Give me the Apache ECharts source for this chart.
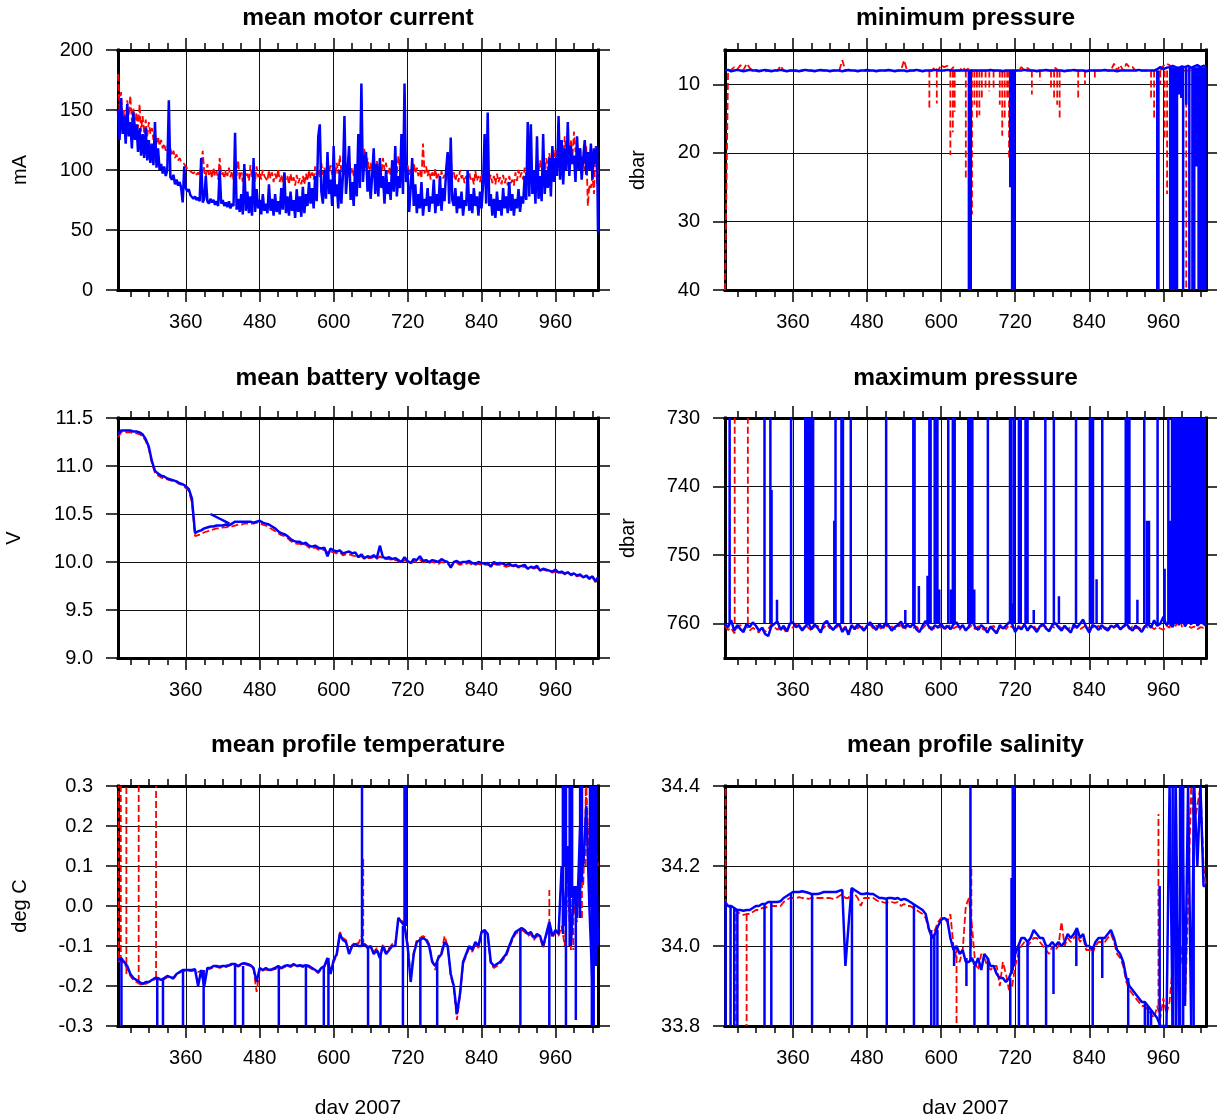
<!DOCTYPE html>
<html>
<head>
<meta charset="utf-8">
<title>float engineering and profile means, day 2007</title>
<script src="https://cdn.jsdelivr.net/npm/echarts@6.0.0/dist/echarts.min.js"></script>
<style>
  html, body { margin: 0; padding: 0; background: #fff; }
  #chart { width: 1217px; height: 1114px; }
</style>
</head>
<body>
<div id="chart"></div>
<script>
// day of 2007, one sample every 5 days
const days = [
  250, 255, 260, 265, 270, 275, 280, 285, 290, 295, 300, 305,
  310, 315, 320, 325, 330, 335, 340, 345, 350, 355, 360, 365,
  370, 375, 380, 385, 390, 395, 400, 405, 410, 415, 420, 425,
  430, 435, 440, 445, 450, 455, 460, 465, 470, 475, 480, 485,
  490, 495, 500, 505, 510, 515, 520, 525, 530, 535, 540, 545,
  550, 555, 560, 565, 570, 575, 580, 585, 590, 595, 600, 605,
  610, 615, 620, 625, 630, 635, 640, 645, 650, 655, 660, 665,
  670, 675, 680, 685, 690, 695, 700, 705, 710, 715, 720, 725,
  730, 735, 740, 745, 750, 755, 760, 765, 770, 775, 780, 785,
  790, 795, 800, 805, 810, 815, 820, 825, 830, 835, 840, 845,
  850, 855, 860, 865, 870, 875, 880, 885, 890, 895, 900, 905,
  910, 915, 920, 925, 930, 935, 940, 945, 950, 955, 960, 965,
  970, 975, 980, 985, 990, 995, 1000, 1005, 1010, 1015, 1020, 1025,
  1029
];

// motor current is noisier, sampled every 2.5 days
const motorDays = [
  250, 252.5, 255, 257.5, 260, 262.5, 265, 267.5, 270, 272.5, 275, 277.5, 280, 282.5, 285, 287.5, 290, 292.5, 295, 297.5, 300, 302.5, 305, 307.5,
  310, 312.5, 315, 317.5, 320, 322.5, 325, 327.5, 330, 332.5, 335, 337.5, 340, 342.5, 345, 347.5, 350, 352.5, 355, 357.5, 360, 362.5, 365, 367.5,
  370, 372.5, 375, 377.5, 380, 382.5, 385, 387.5, 390, 392.5, 395, 397.5, 400, 402.5, 405, 407.5, 410, 412.5, 415, 417.5, 420, 422.5, 425, 427.5,
  430, 432.5, 435, 437.5, 440, 442.5, 445, 447.5, 450, 452.5, 455, 457.5, 460, 462.5, 465, 467.5, 470, 472.5, 475, 477.5, 480, 482.5, 485, 487.5,
  490, 492.5, 495, 497.5, 500, 502.5, 505, 507.5, 510, 512.5, 515, 517.5, 520, 522.5, 525, 527.5, 530, 532.5, 535, 537.5, 540, 542.5, 545, 547.5,
  550, 552.5, 555, 557.5, 560, 562.5, 565, 567.5, 570, 572.5, 575, 577.5, 580, 582.5, 585, 587.5, 590, 592.5, 595, 597.5, 600, 602.5, 605, 607.5,
  610, 612.5, 615, 617.5, 620, 622.5, 625, 627.5, 630, 632.5, 635, 637.5, 640, 642.5, 645, 647.5, 650, 652.5, 655, 657.5, 660, 662.5, 665, 667.5,
  670, 672.5, 675, 677.5, 680, 682.5, 685, 687.5, 690, 692.5, 695, 697.5, 700, 702.5, 705, 707.5, 710, 712.5, 715, 717.5, 720, 722.5, 725, 727.5,
  730, 732.5, 735, 737.5, 740, 742.5, 745, 747.5, 750, 752.5, 755, 757.5, 760, 762.5, 765, 767.5, 770, 772.5, 775, 777.5, 780, 782.5, 785, 787.5,
  790, 792.5, 795, 797.5, 800, 802.5, 805, 807.5, 810, 812.5, 815, 817.5, 820, 822.5, 825, 827.5, 830, 832.5, 835, 837.5, 840, 842.5, 845, 847.5,
  850, 852.5, 855, 857.5, 860, 862.5, 865, 867.5, 870, 872.5, 875, 877.5, 880, 882.5, 885, 887.5, 890, 892.5, 895, 897.5, 900, 902.5, 905, 907.5,
  910, 912.5, 915, 917.5, 920, 922.5, 925, 927.5, 930, 932.5, 935, 937.5, 940, 942.5, 945, 947.5, 950, 952.5, 955, 957.5, 960, 962.5, 965, 967.5,
  970, 972.5, 975, 977.5, 980, 982.5, 985, 987.5, 990, 992.5, 995, 997.5, 1000, 1002.5, 1005, 1007.5, 1010, 1012.5, 1015, 1017.5, 1020, 1022.5, 1025, 1027.5,
  1029
];

const dayTicks = [360, 480, 600, 720, 840, 960];
const dayMinorTicks = [270, 300, 330, 360, 390, 420, 450, 480, 510, 540, 570, 600, 630, 660,
  690, 720, 750, 780, 810, 840, 870, 900, 930, 960, 990, 1020];

// mean motor current (mA)
const motorRed = [
  180, 150, 165, 140, 150, 135, 158, 145, 162, 140, 152, 138, 148, 135, 155, 132, 145, 130, 142, 128, 140, 130, 135, 125,
  130, 122, 128, 120, 125, 118, 122, 116, 120, 115, 118, 112, 116, 110, 113, 108, 110, 107, 108, 105, 104, 101, 102, 99,
  100, 97, 99, 96, 98, 95, 104, 116, 98, 94, 105, 96, 100, 93, 102, 95, 99, 92, 110, 96, 98, 93, 100, 95,
  102, 94, 99, 92, 100, 95, 108, 92, 98, 90, 102, 94, 97, 91, 104, 93, 99, 90, 103, 94, 98, 92, 100, 95,
  96, 91, 100, 93, 98, 90, 97, 92, 101, 90, 96, 89, 98, 92, 95, 88, 97, 90, 94, 87, 96, 89, 93, 88,
  95, 88, 97, 91, 100, 93, 98, 92, 103, 95, 100, 94, 106, 96, 102, 95, 108, 98, 104, 96, 100, 94, 106, 97,
  112, 98, 104, 96, 100, 94, 114, 97, 102, 95, 105, 98, 108, 100, 104, 97, 118, 102, 110, 98, 106, 96, 103, 98,
  108, 99, 104, 96, 110, 100, 106, 97, 102, 95, 108, 99, 104, 97, 112, 100, 115, 102, 122, 100, 104, 96, 101, 95,
  106, 97, 102, 95, 100, 93, 122, 97, 103, 95, 100, 92, 98, 94, 101, 92, 97, 90, 99, 93, 96, 91, 102, 95,
  108, 94, 98, 91, 96, 90, 100, 93, 96, 89, 95, 90, 98, 92, 94, 88, 99, 91, 95, 90, 97, 89, 94, 88,
  106, 92, 96, 89, 95, 88, 97, 90, 94, 88, 96, 89, 93, 87, 95, 89, 92, 87, 98, 91, 100, 94, 98, 92,
  102, 95, 106, 97, 103, 96, 100, 94, 105, 98, 108, 99, 104, 97, 110, 100, 114, 103, 112, 105, 118, 108, 115, 106,
  122, 110, 128, 112, 118, 106, 125, 110, 132, 115, 122, 108, 118, 104, 112, 100, 120, 70, 88, 85, 95, 80, 120, 88,
  100
];
const motorBlue = [
  150, 125, 160, 130, 145, 122, 155, 128, 140, 118, 148, 125, 138, 115, 135, 112, 130, 110, 135, 108, 125, 106, 122, 104,
  140, 102, 118, 100, 105, 97, 103, 95, 100, 158, 94, 92, 96, 88, 92, 87, 90, 85, 73, 103, 85, 82, 84, 79,
  80, 76, 78, 75, 77, 74, 110, 73, 76, 95, 74, 72, 76, 73, 75, 71, 74, 70, 100, 72, 75, 70, 73, 69,
  74, 68, 72, 70, 131, 67, 76, 65, 80, 63, 105, 66, 82, 64, 78, 62, 110, 65, 84, 68, 75, 63, 80, 66,
  72, 64, 88, 66, 76, 62, 80, 65, 74, 63, 85, 67, 98, 64, 78, 62, 82, 66, 75, 60, 84, 65, 78, 61,
  86, 64, 80, 70, 90, 72, 85, 68, 95, 74, 128, 138, 82, 72, 100, 76, 115, 80, 92, 70, 120, 78, 88, 68,
  100, 72, 95, 145, 80, 98, 120, 75, 90, 70, 105, 78, 130, 85, 172, 90, 110, 115, 82, 100, 76, 95, 118, 80,
  105, 78, 110, 85, 95, 72, 100, 80, 90, 75, 108, 82, 120, 78, 95, 85, 130, 80, 172, 90, 100, 65, 85, 110,
  70, 88, 64, 80, 68, 90, 62, 76, 70, 85, 65, 78, 72, 92, 64, 80, 70, 95, 66, 85, 74, 100, 115, 72,
  127, 75, 70, 85, 64, 78, 68, 82, 62, 75, 70, 100, 66, 80, 64, 85, 70, 78, 62, 82, 68, 88, 130, 72,
  148, 70, 80, 62, 76, 60, 82, 66, 75, 62, 85, 68, 78, 64, 90, 66, 80, 62, 76, 68, 84, 65, 78, 72,
  95, 75, 140, 78, 138, 80, 100, 72, 128, 76, 95, 74, 130, 80, 100, 85, 110, 78, 120, 90, 110, 95, 145, 92,
  125, 88, 118, 100, 140, 95, 120, 105, 112, 90, 128, 100, 118, 92, 110, 125, 96, 115, 100, 122, 92, 118, 105, 120,
  48
];
const motorTicks = [0, 50, 100, 150, 200];

// minimum pressure (dbar)
const minPresRed = [
  40, 8.0, 7.9, 7.5, 7.8, 7.2, 7.9, 7.0, 7.6, 8.0, 7.9, 8.0,
  8.0, 8.1, 8.0, 8.0, 7.9, 8.0, 7.3, 8.0, 8.0, 8.0, 8.0, 8.1,
  8.0, 8.0, 7.9, 8.0, 8.0, 8.0, 8.0, 8.0, 8.0, 7.9, 8.0, 8.0,
  8.0, 8.0, 6.5, 8.0, 8.0, 8.0, 8.0, 8.0, 8.0, 8.0, 8.1, 8.0,
  8.0, 8.0, 8.0, 8.0, 8.0, 8.0, 8.0, 8.0, 8.0, 8.0, 6.5, 8.0,
  8.0, 8.0, 8.0, 8.0, 8.0, 8.0, 8.0, 8.0, 7.5, 8.0, 7.2, 7.5,
  7.3, 8.0, 7.5, 8.0, 8.0, 7.5, 8.0, 7.6, 8.0, 8.0, 8.0, 8.0,
  8.0, 8.0, 8.0, 8.0, 8.0, 8.0, 8.0, 8.0, 8.0, 8.0, 8.0, 8.0,
  7.5, 8.0, 7.6, 8.0, 8.0, 8.0, 8.0, 8.0, 8.0, 8.0, 8.0, 7.6,
  8.0, 8.0, 8.0, 8.0, 8.0, 8.0, 8.0, 8.0, 8.0, 8.0, 8.0, 8.0,
  8.0, 8.0, 8.0, 8.0, 8.0, 8.0, 7.0, 8.0, 7.2, 8.0, 7.0, 7.5,
  7.5, 8.0, 8.0, 8.0, 8.0, 8.0, 8.0, 8.0, 8.0, 8.0, 7.3, 7.0,
  7.2, 8.0, 8.0, 8.0, 8.0, 8.0, 8.0, 8.0, 8.0, 8.0, 8.0, 8.0,
  8.0
];
const minPresBlue = [
  8.0, 7.9, 8.1, 8.0, 7.9, 8.0, 8.1, 8.0, 7.9, 8.0, 8.0, 8.1,
  8.0, 7.9, 8.0, 8.1, 8.0, 8.0, 7.9, 8.0, 8.1, 8.0, 8.0, 8.0,
  8.1, 8.0, 7.9, 8.0, 8.0, 8.1, 8.0, 7.9, 8.0, 8.0, 8.1, 8.0,
  8.0, 8.0, 8.1, 8.0, 7.9, 8.0, 8.0, 8.1, 8.0, 8.0, 7.9, 8.0,
  8.0, 8.1, 8.0, 8.0, 8.0, 7.9, 8.0, 8.1, 8.0, 8.0, 8.0, 8.1,
  8.0, 8.0, 7.9, 8.0, 8.1, 8.0, 8.0, 8.0, 7.9, 8.0, 8.0, 8.0,
  7.9, 8.0, 8.0, 8.0, 8.0, 8.0, 8.0, 8.0, 8.0, 8.0, 8.0, 8.0,
  8.0, 8.0, 7.9, 8.0, 8.0, 8.0, 8.1, 8.0, 8.0, 8.0, 8.0, 8.0,
  8.0, 7.9, 8.0, 8.0, 8.0, 8.1, 8.0, 8.0, 7.9, 8.0, 8.0, 8.0,
  8.0, 8.0, 8.1, 8.0, 8.0, 7.9, 8.0, 8.0, 8.0, 8.1, 8.0, 8.0,
  8.0, 8.0, 8.0, 7.9, 8.0, 8.0, 8.0, 8.1, 8.0, 8.0, 8.0, 8.0,
  8.0, 8.0, 7.9, 8.0, 8.0, 8.0, 8.0, 8.0, 7.8, 7.5, 7.8, 7.6,
  7.5, 7.3, 7.5, 7.6, 7.4, 7.5, 7.3, 7.6, 7.4, 7.2, 7.5, 7.3,
  7.4
];
// [day, from, to]
const minPresRedSpikes = [
  [581, 8, 13.5], [593, 8, 12.8], [615, 8, 20.3], [619, 8, 17], [622, 8, 14], [640, 8, 24],
  [650, 8, 29], [654, 8, 13], [658, 8, 15], [662, 8, 14.5], [666, 8, 12], [672, 8, 10.5],
  [678, 8, 11], [685, 8, 10.5], [695, 8, 13], [699, 8, 17.5], [703, 8, 15], [707, 8, 12],
  [710, 8, 21], [747, 8, 11.5], [760, 8, 9.5], [778, 8, 10.5], [783, 8, 12], [788, 8, 13],
  [792, 8, 15.2], [822, 8, 12], [833, 8, 10], [849, 8, 9.2], [940, 8, 12], [945, 8, 15],
  [950, 8, 13], [955, 8, 10], [962, 8, 18], [966, 8, 26], [971, 8, 14], [997, 8, 40]
];
const minPresBlueSpikes = [
  [645, 8, 40], [648, 8, 40], [712, 8, 25], [715, 8, 40], [718, 8, 40], [950, 8, 40],
  [952, 8, 40], [971, 7.5, 40], [974, 7.5, 40], [978, 7.5, 40], [982, 7.5, 40], [986, 7.5, 11.5],
  [989, 7.5, 12], [992, 7.5, 40], [997, 7.5, 13], [1002, 7.5, 40], [1007, 7.5, 40], [1010, 7.5, 40],
  [1014, 7.5, 22], [1017, 7.5, 40], [1021, 7.5, 40], [1025, 7.5, 40], [1028, 7.5, 40]
];
const minPresTicks = [10, 20, 30, 40];

// mean battery voltage (V)
const battRed = [
  11.30, 11.35, 11.35, 11.35, 11.35, 11.34, 11.34, 11.33, 11.31, 11.26, 11.18, 11.03,
  10.93, 10.90, 10.88, 10.87, 10.86, 10.85, 10.84, 10.83, 10.81, 10.80, 10.77, 10.74,
  10.62, 10.27, 10.28, 10.29, 10.31, 10.32, 10.33, 10.34, 10.35, 10.35, 10.36, 10.36,
  10.37, 10.37, 10.38, 10.39, 10.39, 10.40, 10.40, 10.40, 10.40, 10.41, 10.40, 10.39,
  10.38, 10.36, 10.34, 10.32, 10.30, 10.28, 10.27, 10.25, 10.22, 10.20, 10.19, 10.19,
  10.17, 10.18, 10.15, 10.14, 10.15, 10.13, 10.12, 10.13, 10.10, 10.11, 10.10, 10.09,
  10.10, 10.07, 10.08, 10.08, 10.07, 10.06, 10.05, 10.06, 10.03, 10.04, 10.04, 10.05,
  10.03, 10.06, 10.03, 10.03, 10.03, 10.02, 10.02, 10.01, 9.99, 10.02, 10.00, 9.98,
  10.01, 10.00, 10.02, 10.00, 10.00, 9.99, 10.00, 9.99, 9.98, 10.00, 9.99, 9.98,
  9.96, 9.98, 9.99, 9.97, 9.98, 9.98, 9.99, 9.97, 9.97, 9.98, 9.97, 9.97,
  9.97, 9.96, 9.98, 9.97, 9.97, 9.96, 9.95, 9.96, 9.95, 9.96, 9.94, 9.95,
  9.95, 9.93, 9.94, 9.93, 9.94, 9.92, 9.92, 9.91, 9.90, 9.89, 9.90, 9.88,
  9.89, 9.87, 9.90, 9.86, 9.87, 9.85, 9.86, 9.84, 9.85, 9.82, 9.84, 9.79,
  9.82
];
const battBlue = [
  11.33, 11.37, 11.37, 11.37, 11.37, 11.36, 11.36, 11.35, 11.33, 11.28, 11.20, 11.05,
  10.95, 10.92, 10.90, 10.89, 10.87, 10.86, 10.85, 10.84, 10.82, 10.81, 10.79, 10.76,
  10.66, 10.30, 10.32, 10.33, 10.35, 10.36, 10.37, 10.37, 10.38, 10.38, 10.38, 10.39,
  10.38, 10.40, 10.42, 10.42, 10.42, 10.42, 10.42, 10.42, 10.41, 10.42, 10.43, 10.41,
  10.40, 10.39, 10.37, 10.35, 10.32, 10.30, 10.29, 10.27, 10.24, 10.22, 10.21, 10.21,
  10.19, 10.20, 10.17, 10.16, 10.17, 10.15, 10.14, 10.15, 10.06, 10.14, 10.12, 10.11,
  10.12, 10.09, 10.10, 10.11, 10.09, 10.10, 10.05, 10.08, 10.04, 10.06, 10.05, 10.07,
  10.04, 10.17, 10.05, 10.04, 10.05, 10.03, 10.04, 10.02, 10.00, 10.05, 10.01, 9.99,
  10.03, 10.02, 10.06, 10.01, 10.02, 10.00, 10.02, 10.01, 10.00, 10.03, 10.01, 10.00,
  9.94, 10.00, 10.01, 9.99, 10.00, 10.00, 10.01, 9.99, 9.98, 10.00, 9.99, 9.98,
  9.99, 9.95, 10.00, 9.98, 9.99, 9.98, 9.97, 9.98, 9.96, 9.97, 9.95, 9.96,
  9.97, 9.93, 9.95, 9.94, 9.96, 9.91, 9.93, 9.92, 9.91, 9.90, 9.92, 9.89,
  9.90, 9.88, 9.89, 9.87, 9.88, 9.86, 9.87, 9.84, 9.86, 9.83, 9.85, 9.80,
  9.84
];
const battBlueStray = [[400, 10.50], [431, 10.40]];
const battTicks = [9.0, 9.5, 10.0, 10.5, 11.0, 11.5];

// maximum pressure (dbar)
const maxPresRed = [
  760.3, 760.9, 760.6, 761.4, 760.5, 760.2, 760.8, 760.4, 761.0, 760.6, 760.9, 761.3,
  760.4, 761.2, 760.8, 760.1, 760.5, 760.9, 760.3, 760.7, 761.4, 760.2, 760.6, 760.1,
  760.5, 760.8, 760.2, 760.6, 761.0, 760.4, 760.3, 760.9, 760.6, 760.1, 760.7, 760.4,
  760.6, 760.2, 760.9, 760.4, 761.1, 760.5, 760.3, 760.7, 760.2, 760.8, 760.5, 760.1,
  760.7, 760.3, 760.5, 760.9, 760.2, 760.6, 760.4, 760.8, 760.5, 760.2, 760.9, 760.4,
  760.3, 760.6, 760.4, 760.9, 760.7, 760.2, 760.6, 760.5, 760.8, 760.3, 760.6, 760.9,
  760.5, 760.2, 760.7, 760.4, 760.9, 760.3, 760.7, 760.6, 760.2, 760.8, 760.4, 760.6,
  760.9, 760.5, 760.7, 760.3, 761.1, 760.6, 760.4, 760.8, 760.2, 760.5, 760.9, 760.3,
  760.6, 760.4, 760.8, 760.5, 760.3, 760.9, 760.6, 760.2, 760.5, 760.8, 760.4, 760.7,
  760.3, 760.7, 760.5, 760.9, 760.4, 760.6, 760.3, 760.8, 760.5, 760.2, 760.7, 760.5,
  760.6, 760.3, 760.8, 760.5, 760.7, 760.4, 760.6, 760.3, 760.9, 760.5, 760.2, 760.8,
  760.4, 760.7, 760.5, 760.9, 760.3, 760.6, 760.4, 760.8, 760.5, 760.7, 760.9, 760.3,
  760.6, 758.5, 760.4, 758.0, 760.5, 758.8, 760.3, 760.6, 760.4, 760.8, 760.5, 760.6,
  760.5
];
const maxPresBlue = [
  760.0, 760.5, 759.5, 761.0, 760.2, 760.8, 761.2, 760.0, 760.5, 759.8, 760.3, 761.0,
  760.6, 761.5, 761.8, 760.4, 760.0, 759.7, 760.9, 760.3, 761.1, 760.0, 759.8, 760.5,
  760.2, 761.0, 760.4, 759.9, 760.8, 760.1, 760.6, 761.3, 760.0, 759.6, 760.4, 760.9,
  760.3, 760.0, 761.2, 760.5, 761.6, 760.2, 760.8, 760.1, 760.5, 761.0, 760.3, 759.8,
  760.4, 760.9, 760.1, 760.6, 759.9, 760.3, 761.0, 760.5, 760.2, 759.7, 760.6, 760.1,
  760.5, 760.0, 760.8, 761.2, 760.3, 759.6, 760.4, 760.9, 760.2, 760.6, 760.0, 760.7,
  760.3, 760.8, 760.1, 759.8, 760.6, 760.2, 761.0, 760.4, 759.3, 760.5, 760.9, 760.2,
  760.6, 761.3, 760.4, 760.9, 761.4, 760.2, 760.7, 760.3, 759.8, 760.0, 761.2, 760.5,
  760.8, 760.1, 761.0, 760.3, 760.6, 761.2, 760.4, 760.0, 760.7, 761.1, 760.2, 759.9,
  760.5, 761.0, 760.3, 760.8, 761.3, 760.1, 760.6, 760.0, 759.4, 760.5, 761.3, 760.2,
  760.4, 760.9, 760.2, 760.7, 761.0, 760.3, 760.5, 760.1, 760.8, 760.4, 760.0, 760.6,
  761.0, 760.3, 760.7, 761.2, 760.4, 760.0, 760.6, 759.5, 760.3, 760.0, 759.0, 760.2,
  759.8, 760.5, 759.0, 760.2, 758.8, 760.4, 759.6, 760.1, 758.5, 760.3, 759.8, 760.0,
  760.3
];
const maxPresRedSpikes = [
  [265.7, 760, 730], [287, 760, 730], [992, 760, 755], [1015, 760, 730], [1018.5, 760, 730],
  [1023.5, 760, 730], [1026.7, 760, 730]
];
const maxPresBlueSpikes = [
  [257.5, 760, 730], [314, 760, 730], [323.5, 760, 730], [325.4, 760, 740.5], [334.2, 760, 756.5],
  [357, 760, 730], [380, 760, 730], [383, 760, 730], [386, 760, 730], [389.6, 760, 730],
  [392.7, 760, 730], [427, 760, 745], [429, 760, 730], [438.6, 760, 730], [441, 760, 730],
  [453.7, 760, 730], [511, 760, 730], [542, 760, 758], [555, 760, 730], [557, 760, 730],
  [564, 760, 754.5], [578, 760, 753], [581, 760, 730], [583, 760, 730], [589.6, 760, 730],
  [592, 760, 730], [594, 760, 730], [597, 760, 755], [611.6, 760, 730], [616, 760, 755],
  [619, 760, 730], [622, 760, 730], [644, 760, 730], [646, 760, 730], [648.7, 760, 730],
  [650.6, 760, 730], [653.7, 760, 755], [675.7, 760, 730], [711.6, 760, 730], [713.5, 760, 730],
  [716.6, 760, 757], [718, 760, 730], [726, 760, 730], [729, 760, 730], [736.7, 760, 730],
  [740, 760, 730], [750, 760, 758], [768.8, 760, 730], [782.6, 760, 730], [790.8, 760, 756],
  [818.5, 760, 730], [841, 760, 730], [843.6, 760, 730], [846, 760, 730], [851.8, 760, 753.5],
  [861, 760, 730], [899, 760, 730], [902, 760, 730], [905, 760, 730], [917.9, 760, 756.5],
  [929, 760, 730], [933.6, 760, 745], [936.7, 760, 745], [950.6, 760, 730], [962, 760, 752],
  [968, 760, 730], [971, 760, 745], [974, 760, 730], [977, 760, 730], [980, 760, 730],
  [983, 760, 730], [986, 760, 730], [989, 760, 730], [993, 760, 730], [996, 760, 730],
  [999, 760, 730], [1002, 760, 730], [1006, 760, 730], [1009, 760, 730], [1013, 760, 730],
  [1016, 760, 730], [1020, 760, 730], [1024, 760, 730], [1027, 760, 730]
];
const maxPresTicks = [730, 740, 750, 760];

// mean profile temperature (deg C)
const tempRed = [
  -0.14, -0.135, -0.145, -0.155, -0.175, -0.185, -0.19, -0.195, -0.198, -0.195, -0.19, -0.188,
  -0.183, -0.182, -0.187, -0.183, -0.178, -0.18, -0.182, -0.172, -0.167, -0.163, -0.162, -0.162,
  -0.163, -0.16, -0.165, -0.162, -0.165, -0.158, -0.157, -0.153, -0.152, -0.155, -0.152, -0.153,
  -0.15, -0.147, -0.148, -0.152, -0.148, -0.145, -0.148, -0.15, -0.158, -0.215, -0.158, -0.162,
  -0.158, -0.163, -0.16, -0.158, -0.153, -0.157, -0.153, -0.15, -0.153, -0.148, -0.152, -0.15,
  -0.153, -0.15, -0.153, -0.158, -0.162, -0.168, -0.158, -0.153, -0.135, -0.165, -0.14, -0.125,
  -0.065, -0.08, -0.085, -0.115, -0.098, -0.09, -0.095, -0.075, -0.095, -0.1, -0.105, -0.115,
  -0.105, -0.125, -0.095, -0.115, -0.105, -0.095, -0.095, -0.03, -0.035, -0.045, -0.095, -0.18,
  -0.115, -0.085, -0.08, -0.075, -0.08, -0.095, -0.135, -0.16, -0.125, -0.115, -0.075, -0.1,
  -0.175, -0.205, -0.285, -0.225, -0.145, -0.125, -0.105, -0.115, -0.095, -0.105, -0.065, -0.065,
  -0.075, -0.145, -0.155, -0.15, -0.145, -0.135, -0.125, -0.105, -0.085, -0.07, -0.065, -0.06,
  -0.065, -0.075, -0.07, -0.085, -0.075, -0.08, -0.105, -0.075, -0.045, -0.08, -0.065, -0.075,
  -0.05, -0.1, 0.05, -0.11, 0.0, -0.04, 0.12, 0.05, 0.3, 0.1, 0.22, 0.15,
  0.1
];
const tempBlue = [
  -0.135, -0.13, -0.14, -0.15, -0.17, -0.18, -0.185, -0.19, -0.195, -0.19, -0.19, -0.185,
  -0.18, -0.18, -0.185, -0.18, -0.175, -0.178, -0.18, -0.17, -0.165, -0.16, -0.16, -0.16,
  -0.16, -0.158, -0.2, -0.16, -0.2, -0.155, -0.155, -0.15, -0.15, -0.152, -0.15, -0.15,
  -0.148, -0.145, -0.145, -0.15, -0.145, -0.143, -0.145, -0.148, -0.155, -0.19, -0.155, -0.16,
  -0.155, -0.16, -0.158, -0.155, -0.15, -0.155, -0.15, -0.148, -0.15, -0.145, -0.15, -0.148,
  -0.15, -0.148, -0.15, -0.155, -0.16, -0.165, -0.155, -0.15, -0.13, -0.17, -0.135, -0.12,
  -0.07, -0.085, -0.09, -0.12, -0.1, -0.095, -0.1, -0.1, -0.095, -0.105, -0.1, -0.12,
  -0.11, -0.13, -0.1, -0.12, -0.11, -0.1, -0.1, -0.03, -0.04, -0.05, -0.1, -0.19,
  -0.12, -0.09, -0.085, -0.08, -0.085, -0.1, -0.14, -0.15, -0.13, -0.12, -0.09, -0.1,
  -0.17, -0.2, -0.27, -0.22, -0.14, -0.12, -0.1, -0.11, -0.09, -0.1, -0.065, -0.06,
  -0.07, -0.14, -0.15, -0.145, -0.14, -0.13, -0.12, -0.1, -0.08, -0.065, -0.06, -0.055,
  -0.06, -0.07, -0.065, -0.08, -0.07, -0.075, -0.1, -0.07, -0.04, -0.075, -0.06, -0.07,
  0.1, -0.05, 0.15, -0.1, 0.05, -0.03, 0.2, 0.1, 0.25, 0.0, -0.2, 0.2,
  -0.1
];
const tempRedSpikes = [
  [251, -0.13, 0.3], [254.6, -0.14, 0.3], [263.6, -0.17, 0.3], [283.6, -0.19, 0.3], [311.8, -0.18, 0.3],
  [648, -0.1, 0.12], [950, -0.05, 0.04], [985, -0.1, 0.2], [989, -0.03, -0.11], [1003, -0.03, 0.12],
  [1009, 0.1, 0.3], [1016, 0.0, 0.3], [1020, -0.2, 0.22]
];
const tempBlueSpikes = [
  [255.6, -0.13, -0.3], [313.7, -0.18, -0.3], [323, -0.18, -0.3], [355.5, -0.16, -0.3], [389, -0.16, -0.3],
  [440, -0.145, -0.3], [453, -0.15, -0.3], [511, -0.15, -0.3], [555, -0.15, -0.3], [584, -0.15, -0.3],
  [591.5, -0.13, -0.3], [646, -0.1, 0.3], [655.8, -0.1, -0.3], [676, -0.12, -0.3], [712.4, -0.05, -0.3],
  [715, -0.05, 0.3], [717, -0.05, 0.3], [740.7, -0.085, -0.3], [768, -0.14, -0.3], [845.5, -0.06, -0.3],
  [903, -0.06, -0.3], [950, -0.05, -0.3], [972, -0.07, 0.3], [974, 0.1, 0.3], [977, -0.3, 0.3],
  [983, -0.1, 0.3], [987, 0.02, 0.3], [993, 0.05, -0.285], [1000, -0.03, 0.3], [1003, 0.06, 0.3],
  [1016, 0.0, 0.3], [1019, -0.3, 0.3], [1022, -0.3, 0.3], [1026, -0.15, 0.3]
];
const tempTicks = [-0.3, -0.2, -0.1, 0.0, 0.1, 0.2, 0.3];

// mean profile salinity
const salRed = [
  34.1, 34.1, 34.095, 34.09, 34.085, 34.08, 34.078, 34.08, 34.08, 34.085, 34.09, 34.09,
  34.095, 34.095, 34.1, 34.1, 34.1, 34.1, 34.1, 34.11, 34.115, 34.12, 34.12, 34.12,
  34.122, 34.12, 34.12, 34.118, 34.12, 34.12, 34.12, 34.12, 34.12, 34.12, 34.12, 34.118,
  34.12, 34.125, 34.13, 34.12, 34.12, 34.14, 34.13, 34.12, 34.1, 34.12, 34.12, 34.12,
  34.12, 34.115, 34.11, 34.11, 34.108, 34.11, 34.11, 34.108, 34.11, 34.1, 34.105, 34.1,
  34.1, 34.095, 34.09, 34.085, 34.08, 34.07, 34.04, 34.02, 34.04, 34.06, 34.07, 34.07,
  34.06, 34.08, 34.0, 33.97, 33.96, 33.99, 34.1, 34.12, 34.05, 33.96, 33.94, 33.98,
  33.97, 33.95, 33.94, 33.95, 33.95, 33.9, 33.96, 33.93, 33.89, 33.9, 33.95, 33.98,
  34.0, 34.01, 34.0, 34.01, 34.02, 34.02, 34.01, 34.0, 33.99, 33.98, 34.0, 33.99,
  34.0, 34.06, 34.0, 34.02, 34.01, 34.02, 34.03, 34.01, 34.02, 33.99, 33.99, 33.98,
  34.0, 34.01, 34.01, 34.01, 34.02, 34.03, 34.01, 33.98, 33.97, 33.95, 33.91, 33.89,
  33.88, 33.87, 33.86, 33.85, 33.85, 33.84, 33.83, 33.82, 33.85, 33.82, 33.87, 33.83,
  33.86, 33.95, 34.1, 33.9, 34.0, 33.85, 34.1, 34.4, 34.3, 34.35, 34.4, 34.2,
  34.15
];
const salBlue = [
  34.11, 34.10, 34.10, 34.095, 34.09, 34.09, 34.088, 34.09, 34.09, 34.095, 34.1, 34.1,
  34.105, 34.105, 34.11, 34.11, 34.11, 34.11, 34.112, 34.12, 34.125, 34.13, 34.135, 34.135,
  34.135, 34.137, 34.135, 34.133, 34.13, 34.13, 34.13, 34.132, 34.135, 34.135, 34.135, 34.135,
  34.135, 34.138, 34.14, 33.95, 34.05, 34.145, 34.14, 34.135, 34.13, 34.13, 34.132, 34.13,
  34.13, 34.125, 34.12, 34.12, 34.118, 34.12, 34.12, 34.118, 34.12, 34.115, 34.118, 34.115,
  34.11, 34.105, 34.1, 34.095, 34.09, 34.08, 34.045, 34.02, 34.03, 34.05, 34.065, 34.07,
  34.065, 34.02, 33.99, 34.0, 33.98, 33.99, 33.96, 33.96, 33.97, 33.95, 33.97, 33.94,
  33.98, 33.97, 33.95, 33.95, 33.93, 33.92, 33.92, 33.91, 33.92, 33.94, 33.98, 34.0,
  34.02, 34.02, 34.01, 34.02, 34.04, 34.03, 34.02, 34.02, 34.0, 34.0, 34.01, 34.0,
  34.01, 34.0, 34.01, 34.03, 34.02, 34.03, 34.045, 34.02, 34.03, 34.0, 34.0, 33.99,
  34.01, 34.02, 34.02, 34.02, 34.03, 34.04, 34.02, 33.99, 33.98, 33.96, 33.92, 33.9,
  33.89, 33.88, 33.87, 33.86, 33.86, 33.85, 33.84, 33.83, 33.82, 33.8, 33.8, 33.8,
  34.4, 33.8, 34.4, 33.8, 34.4, 33.85, 34.4, 33.8, 34.4, 34.2, 34.4, 34.15,
  34.15
];
const salRedSpikes = [
  [251, 34.1, 34.4], [266, 34.08, 33.8], [270, 34.08, 33.8], [285, 34.08, 33.8],
  [625, 34.0, 33.8], [649, 34.0, 34.2], [952, 33.85, 34.33]
];
const salBlueSpikes = [
  [251, 34.11, 33.8], [259, 34.1, 33.8], [265, 34.095, 33.8], [270, 34.09, 33.8], [314, 34.105, 33.8],
  [325, 34.11, 33.8], [357, 34.13, 33.8], [391, 34.13, 33.8], [455.6, 34.14, 33.8], [512, 34.12, 33.8],
  [556, 34.105, 33.8], [584, 34.04, 33.8], [589, 34.03, 33.8], [594, 34.04, 33.8], [621, 34.0, 33.95],
  [641, 33.97, 33.9], [647.5, 33.96, 34.4], [654, 33.95, 33.8], [676, 33.97, 33.8], [712, 33.92, 33.8],
  [714, 33.93, 34.17], [716, 33.94, 34.4], [718, 33.95, 34.4], [726, 34.0, 33.8], [740, 34.01, 33.8],
  [770, 34.0, 33.8], [782, 34.0, 33.88], [819, 34.04, 33.95], [845.5, 34.0, 33.8], [861, 34.02, 33.92],
  [903, 33.92, 33.8], [930, 33.86, 33.8], [935, 33.85, 33.8], [940, 33.84, 33.8], [954, 33.8, 34.15],
  [975, 33.8, 34.4], [980, 33.8, 34.4], [987, 33.8, 34.4], [992, 33.8, 34.4], [1009, 34.4, 33.8]
];
const salTicks = [33.8, 34.0, 34.2, 34.4];

const FONT = 'Liberation Sans, Arial, Helvetica, sans-serif';
const RED = '#ff0000';
const BLUE = '#0000ff';

const panels = [
  { title: 'mean motor current', yName: 'mA', nameGap: 88, min: 0, max: 200, ticks: motorTicks,
    fmt: v => String(v), x: motorDays, red: motorRed, blue: motorBlue, redSpikes: [], blueSpikes: [] },
  { title: 'minimum pressure', yName: 'dbar', nameGap: 77, min: 5, max: 40, inverse: true, ticks: minPresTicks,
    fmt: v => String(v), x: days, red: minPresRed, blue: minPresBlue, redSpikes: minPresRedSpikes, blueSpikes: minPresBlueSpikes },
  { title: 'mean battery voltage', yName: 'V', nameGap: 94, min: 9, max: 11.5, ticks: battTicks,
    fmt: v => v.toFixed(1), x: days, red: battRed, blue: battBlue, redSpikes: [], blueSpikes: [], stray: battBlueStray },
  { title: 'maximum pressure', yName: 'dbar', nameGap: 87, min: 730, max: 765, inverse: true, ticks: maxPresTicks,
    fmt: v => String(v), x: days, red: maxPresRed, blue: maxPresBlue, redSpikes: maxPresRedSpikes, blueSpikes: maxPresBlueSpikes },
  { title: 'mean profile temperature', yName: 'deg C', nameGap: 88, min: -0.3, max: 0.3, ticks: tempTicks,
    fmt: v => v.toFixed(1), x: days, red: tempRed, blue: tempBlue, redSpikes: tempRedSpikes, blueSpikes: tempBlueSpikes },
  { title: 'mean profile salinity', yName: '', nameGap: 80, min: 33.8, max: 34.4, ticks: salTicks,
    fmt: v => v.toFixed(1), x: days, red: salRed, blue: salBlue, redSpikes: salRedSpikes, blueSpikes: salBlueSpikes }
];

function pairs(xs, vals) {
  return xs.map((d, k) => [d, vals[k]]);
}
function spikeData(list) {
  const out = [];
  list.forEach(s => { out.push([s[0], s[1]], [s[0], s[2]], [s[0], '-']); });
  return out;
}

const grids = [], xAxes = [], yAxes = [], series = [], titles = [];
const black = { color: '#000', width: 1.5 };

panels.forEach((p, i) => {
  const col = i % 2, row = Math.floor(i / 2);
  const left = col ? 725 : 118;
  const width = col ? 481 : 480;
  const top = [50, 418, 786][row];
  grids.push({ left: left, top: top, width: width, height: 240, containLabel: false, outerBoundsMode: 'none' });

  titles.push({
    text: p.title, left: left + width / 2, top: [6, 366, 733][row], textAlign: 'center', padding: 0,
    textStyle: { fontSize: 24.5, fontWeight: 'bold', fontFamily: FONT, color: '#000' }
  });

  const xBase = { gridIndex: i, type: 'value', min: 250, max: 1029,
    axisLine: { show: false, onZero: false }, splitLine: { show: false }, axisLabel: { show: false } };
  // bottom, major ticks + labels + grid lines
  xAxes.push(Object.assign({}, xBase, {
    position: 'bottom',
    axisLine: { show: true, onZero: false, lineStyle: { color: '#000', width: 3, cap: 'square' } },
    axisTick: { show: true, length: 12, customValues: dayTicks, lineStyle: black },
    axisLabel: { show: true, customValues: dayTicks, margin: 22, fontSize: 20, fontFamily: FONT, color: '#000' },
    splitLine: { show: true, lineStyle: { color: '#111', width: 1 } },
    name: row === 2 ? 'day 2007' : '', nameLocation: 'middle', nameGap: 72,
    nameTextStyle: { fontSize: 21, fontFamily: FONT, color: '#000' }
  }));
  // bottom, minor ticks
  xAxes.push(Object.assign({}, xBase, {
    position: 'bottom',
    axisTick: { show: true, length: 7, customValues: dayMinorTicks, lineStyle: black }
  }));
  // top, major ticks
  xAxes.push(Object.assign({}, xBase, {
    position: 'top',
    axisLine: { show: true, onZero: false, lineStyle: { color: '#000', width: 3, cap: 'square' } },
    axisTick: { show: true, length: 12, customValues: dayTicks, lineStyle: black }
  }));
  // top, minor ticks
  xAxes.push(Object.assign({}, xBase, {
    position: 'top',
    axisTick: { show: true, length: 7, customValues: dayMinorTicks, lineStyle: black }
  }));

  yAxes.push({
    gridIndex: i, type: 'value', min: p.min, max: p.max, inverse: !!p.inverse, position: 'left',
    axisLine: { show: true, onZero: false, lineStyle: { color: '#000', width: 3, cap: 'square' } },
    axisTick: { show: true, length: 12, customValues: p.ticks, lineStyle: black },
    axisLabel: { show: true, customValues: p.ticks, formatter: p.fmt, margin: 25, fontSize: 20, fontFamily: FONT, color: '#000' },
    splitLine: { show: true, lineStyle: { color: '#111', width: 1 } },
    name: p.yName, nameLocation: 'middle', nameGap: p.nameGap, nameRotate: 90,
    nameTextStyle: { fontSize: 20, fontFamily: FONT, color: '#000' }
  });
  yAxes.push({
    gridIndex: i, type: 'value', min: p.min, max: p.max, inverse: !!p.inverse, position: 'right',
    axisLine: { show: true, onZero: false, lineStyle: { color: '#000', width: 3, cap: 'square' } },
    axisTick: { show: true, length: 12, customValues: p.ticks, lineStyle: black },
    axisLabel: { show: false }, splitLine: { show: false }
  });

  const xi = i * 4, yi = i * 2;
  const redStyle = { color: RED, width: 1.8, type: [7, 3] };
  const blueStyle = { color: BLUE, width: 2.5 };
  const common = { type: 'line', xAxisIndex: xi, yAxisIndex: yi, showSymbol: false, symbol: 'none',
    silent: true, animation: false, connectNulls: false };
  series.push(Object.assign({}, common, { name: p.title + ' red spikes', data: spikeData(p.redSpikes), lineStyle: redStyle }));
  series.push(Object.assign({}, common, { name: p.title + ' red', data: pairs(p.x, p.red), lineStyle: redStyle }));
  series.push(Object.assign({}, common, { name: p.title + ' blue', data: pairs(p.x, p.blue), lineStyle: blueStyle }));
  series.push(Object.assign({}, common, { name: p.title + ' blue spikes', data: spikeData(p.blueSpikes), lineStyle: blueStyle }));
  if (p.stray) {
    series.push(Object.assign({}, common, { name: p.title + ' blue stray', data: p.stray, lineStyle: blueStyle }));
  }
});

const chart = echarts.init(document.getElementById('chart'), null, { renderer: 'canvas' });
chart.setOption({
  backgroundColor: '#fff',
  animation: false,
  title: titles,
  grid: grids,
  xAxis: xAxes,
  yAxis: yAxes,
  series: series
});
</script>
</body>
</html>
